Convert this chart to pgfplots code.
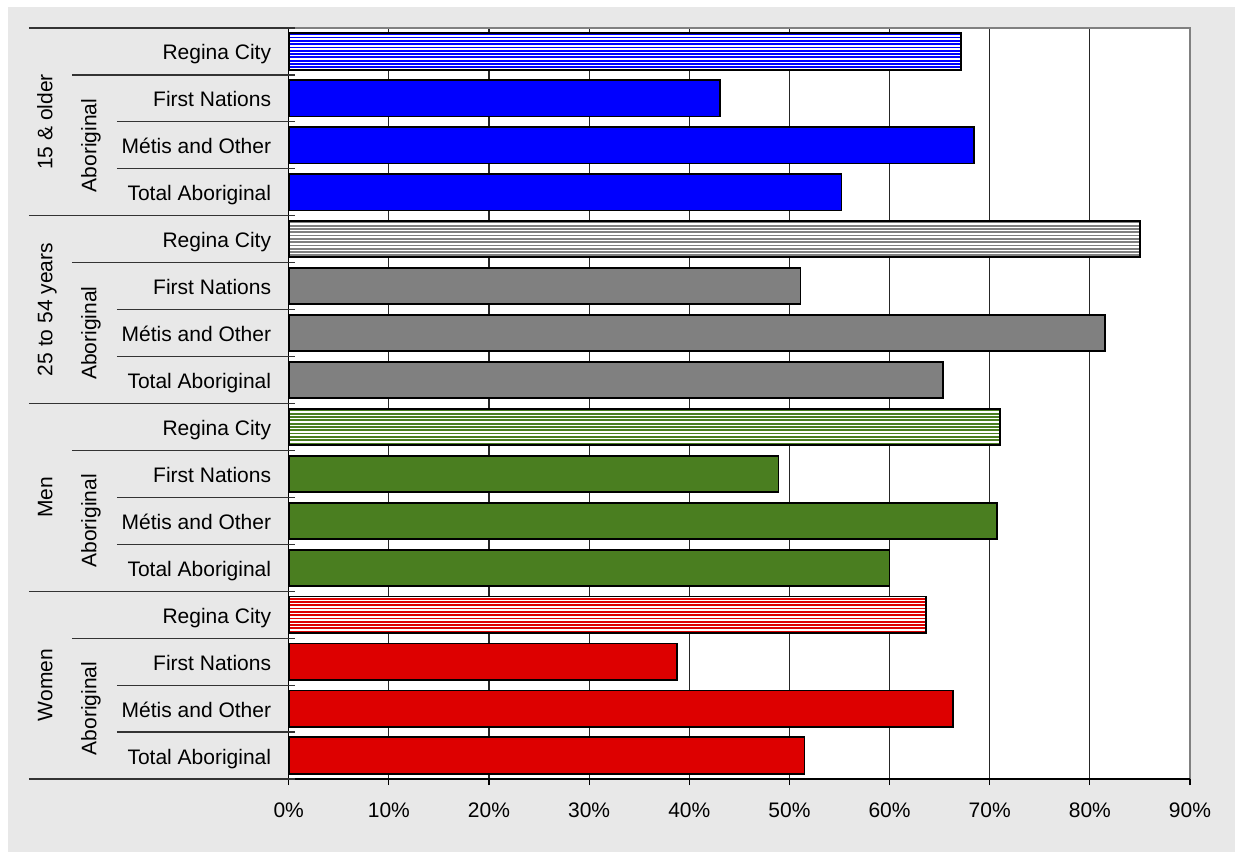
\documentclass[border=0pt]{standalone}
\usepackage{fontspec}
\setmainfont{Liberation Sans}
\usepackage{pgfplots}
\pgfplotsset{compat=1.18}
\usetikzlibrary{patterns}

\definecolor{bgGray}{RGB}{232,232,232}
\definecolor{frameGray}{RGB}{128,128,128}
\definecolor{barBlue}{RGB}{0,0,255}
\definecolor{barGray}{RGB}{128,128,128}
\definecolor{barGreen}{RGB}{74,126,32}
\definecolor{barRed}{RGB}{221,0,0}

% wide horizontal stripes, one tile spans any bar so no seams appear
\pgfdeclarepatternformonly{hstripes}{\pgfpoint{-1pt}{-0.5pt}}{\pgfpoint{501pt}{0.5pt}}{\pgfpoint{500pt}{1.65pt}}{
  \pgfsetlinewidth{0.9pt}
  \pgfpathmoveto{\pgfpoint{-1pt}{0pt}}
  \pgfpathlineto{\pgfpoint{501pt}{0pt}}
  \pgfusepath{stroke}
}

\newcommand{\lblfont}{\fontsize{10.5}{12.5}\selectfont}

\pgfplotsset{
  solidbar/.style={xbar, bar shift=0pt, bar width=0.773, draw=black,
    line width=0.9pt, fill=#1},
  hatchbar/.style={xbar, bar shift=0pt, bar width=0.773, draw=black,
    line width=0.9pt, preaction={fill=white},
    pattern=hstripes, pattern color=#1},
}
\tikzset{
  sepline/.style={black!80, line width=0.6pt},
  grouplabel/.style={rotate=90, font=\lblfont, inner sep=0pt,
    text height=7.5pt, text depth=0pt, anchor=center},
}

\begin{document}
\begin{tikzpicture}
\useasboundingbox (0,0) rectangle (617.5pt,428pt);
\fill[white] (0,0) rectangle (617.5pt,428pt);
\fill[bgGray] (4pt,2pt) rectangle (617.5pt,424.5pt);
\begin{axis}[
  at={(144.35pt,38.5pt)}, anchor=south west,
  scale only axis, width=450.65pt, height=375.5pt,
  xmin=0, xmax=90, ymin=-0.5, ymax=15.5,
  axis background/.style={fill=white},
  axis line style={draw=none},
  clip=false,
  xtick={0,10,...,90},
  xticklabels={0\%,10\%,20\%,30\%,40\%,50\%,60\%,70\%,80\%,90\%},
  xtick pos=left,
  xmajorgrids,
  grid style={black!85, line width=0.55pt},
  tick align=outside,
  major tick length=3pt,
  xtick style={black, line width=0.6pt},
  ytick={0,...,15},
  yticklabels={Total Aboriginal,Métis and Other,First Nations,Regina City,
               Total Aboriginal,Métis and Other,First Nations,Regina City,
               Total Aboriginal,Métis and Other,First Nations,Regina City,
               Total Aboriginal,Métis and Other,First Nations,Regina City},
  ytick style={draw=none},
  yticklabel style={font=\lblfont, anchor=east, inner sep=0pt,
    text height=7.5pt, text depth=0pt, xshift=-5.6pt, yshift=-0.5pt},
  xticklabel style={font=\lblfont, anchor=north, inner sep=0pt,
    text height=7.5pt, text depth=0pt, yshift=-8.3pt},
]
% 15 & older
\addplot[hatchbar=barBlue] coordinates {(67.1,15)};
\addplot[solidbar=barBlue] coordinates {(43.1,14) (68.4,13) (55.2,12)};
% 25 to 54 years
\addplot[hatchbar=barGray] coordinates {(85.0,11)};
\addplot[solidbar=barGray] coordinates {(51.1,10) (81.5,9) (65.3,8)};
% Men
\addplot[hatchbar=barGreen] coordinates {(71.0,7)};
\addplot[solidbar=barGreen] coordinates {(48.9,6) (70.7,5) (60.0,4)};
% Women
\addplot[hatchbar=barRed] coordinates {(63.6,3)};
\addplot[solidbar=barRed] coordinates {(38.8,2) (66.3,1) (51.5,0)};

% plot area frame
\draw[frameGray, line width=0.75pt] (axis cs:0,15.5) -- (axis cs:90,15.5) -- (axis cs:90,-0.5);
\draw[black, line width=0.75pt] (axis cs:0,15.5) -- (axis cs:0,-0.5) -- (axis cs:90,-0.5);

% multi-level category separators
\pgfplotsinvokeforeach{15.5,11.5,7.5,3.5,-0.5}{
  \draw[sepline] ([xshift=-129.85pt]axis cs:0,#1) -- ([xshift=3.15pt]axis cs:0,#1);
}
\pgfplotsinvokeforeach{14.5,10.5,6.5,2.5}{
  \draw[sepline] ([xshift=-108.35pt]axis cs:0,#1) -- ([xshift=3.15pt]axis cs:0,#1);
}
\pgfplotsinvokeforeach{13.5,12.5,9.5,8.5,5.5,4.5,1.5,0.5}{
  \draw[sepline] ([xshift=-85.85pt]axis cs:0,#1) -- ([xshift=3.15pt]axis cs:0,#1);
}

% group labels
\node[grouplabel] at ([xshift=-121.85pt]axis cs:0,13.5) {15 \& older};
\node[grouplabel] at ([xshift=-121.85pt]axis cs:0,9.5) {25 to 54 years};
\node[grouplabel] at ([xshift=-121.85pt]axis cs:0,5.5) {Men};
\node[grouplabel] at ([xshift=-121.85pt]axis cs:0,1.5) {Women};
\pgfplotsinvokeforeach{13,9,5,1}{
  \node[grouplabel] at ([xshift=-99.85pt]axis cs:0,#1) {Aboriginal};
}
\end{axis}
\end{tikzpicture}
\end{document}
